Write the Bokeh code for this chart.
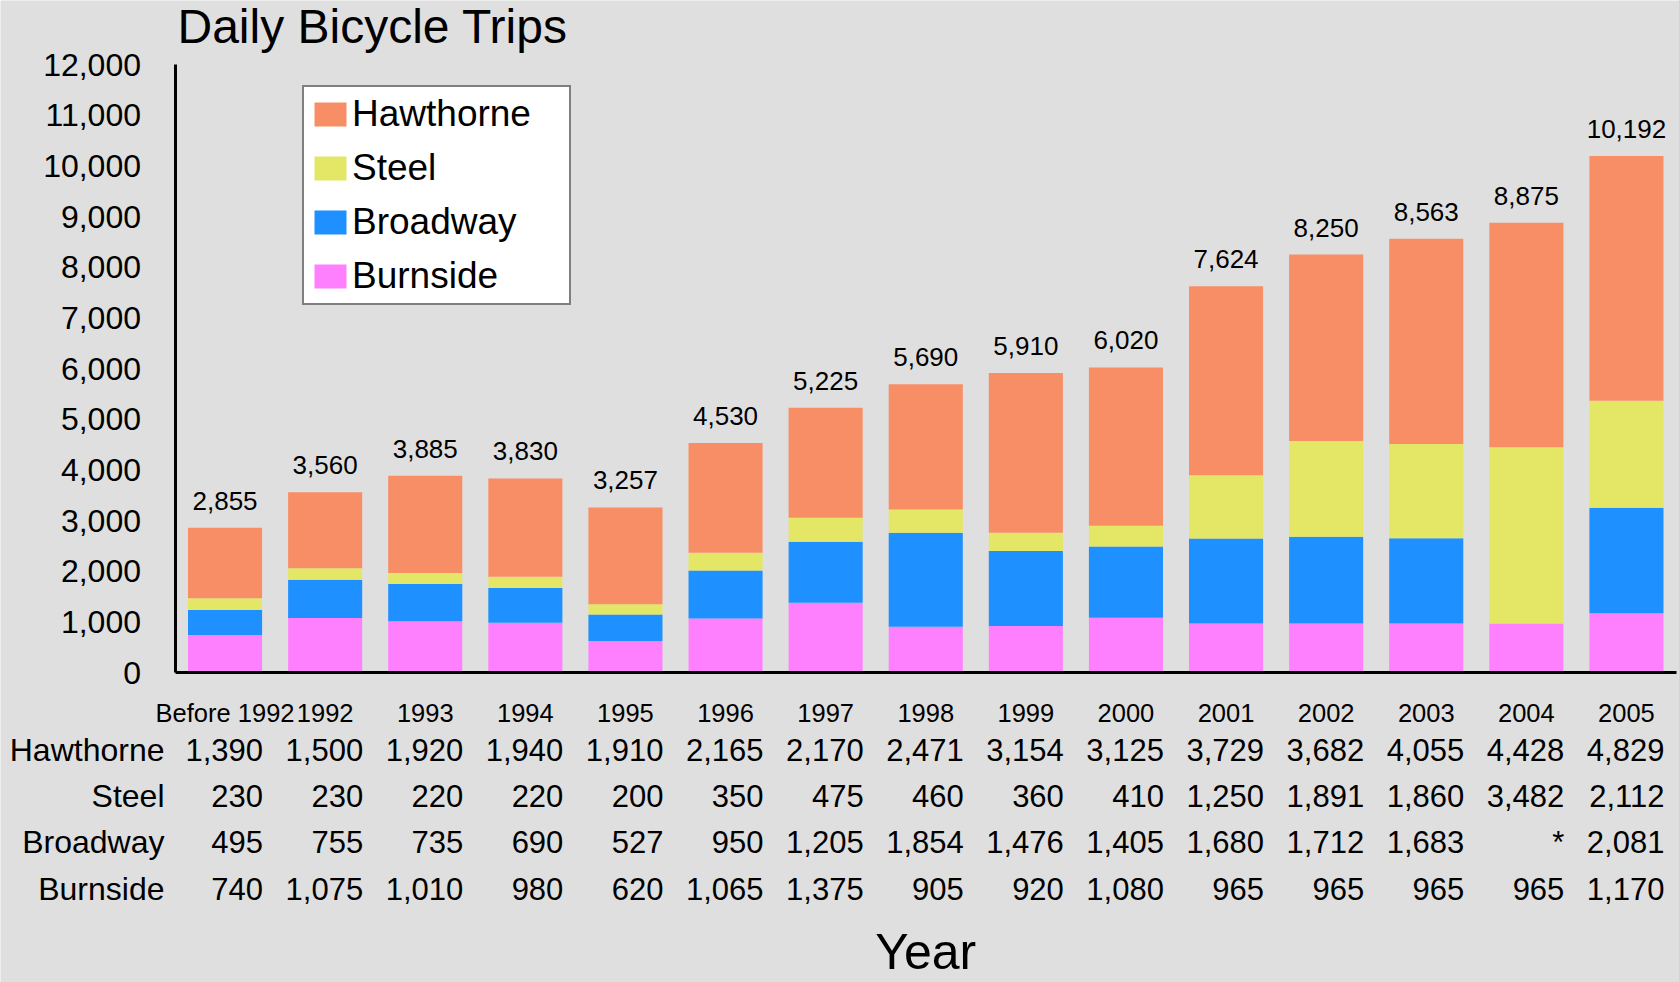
from bokeh.plotting import figure
from bokeh.models import (ColumnDataSource, LabelSet, Legend, LegendItem,
                          FixedTicker, NumeralTickFormatter, Range1d)
from bokeh.core.properties import value
from bokeh.embed import file_html
from bokeh.resources import INLINE

# ---------------- data ----------------
years = ["Before 1992", "1992", "1993", "1994", "1995", "1996", "1997", "1998",
         "1999", "2000", "2001", "2002", "2003", "2004", "2005"]
hawthorne = [1390, 1500, 1920, 1940, 1910, 2165, 2170, 2471, 3154, 3125, 3729, 3682, 4055, 4428, 4829]
steel = [230, 230, 220, 220, 200, 350, 475, 460, 360, 410, 1250, 1891, 1860, 3482, 2112]
broadway = [495, 755, 735, 690, 527, 950, 1205, 1854, 1476, 1405, 1680, 1712, 1683, None, 2081]
burnside = [740, 1075, 1010, 980, 620, 1065, 1375, 905, 920, 1080, 965, 965, 965, 965, 1170]
series_names = ["Hawthorne", "Steel", "Broadway", "Burnside"]
y_ticks = [0, 1000, 2000, 3000, 4000, 5000, 6000, 7000, 8000, 9000, 10000, 11000, 12000]

# ---------------- style / layout ----------------
FONT = "Liberation Sans"
BG = "#DFDFDF"
COLORS = {"Hawthorne": "#F88E66", "Steel": "#E4E765", "Broadway": "#1E90FF", "Burnside": "#FF80FF"}

W, H = 1679, 982
AXIS_PX = 174.5                    # pixel column of the value axis
CAT_PX = 100.1                     # pixel width of one category
TOP_PX, ZERO_PX = 64, 672          # pixel rows of 12000 and 0
UPP = 12000 / (ZERO_PX - TOP_PX)   # data units per pixel
Y1 = 12000 + TOP_PX * UPP
Y0 = Y1 - H * UPP
X0 = -0.5 - AXIS_PX / CAT_PX
X1 = X0 + W / CAT_PX


def ydata(px):
    return Y1 - px * UPP


def fmt(v):
    return "*" if v is None else f"{v:,}"


n = len(years)
xs = list(range(n))
broadway_stack = [0 if v is None else v for v in broadway]
totals = [a + b + c + d for a, b, c, d in zip(hawthorne, steel, broadway_stack, burnside)]

src = ColumnDataSource(dict(x=xs, hawthorne=hawthorne, steel=steel,
                            broadway=broadway_stack, burnside=burnside,
                            total=totals, total_txt=[f"{t:,}" for t in totals]))

p = figure(x_range=Range1d(X0, X1), y_range=Range1d(Y0, Y1),
           width=W, height=H, output_backend="svg", toolbar_location=None,
           min_border_left=0, min_border_right=0, min_border_top=0, min_border_bottom=0,
           background_fill_color=BG, border_fill_color=BG, outline_line_color=None)
p.xgrid.visible = False
p.ygrid.visible = False

# value axis, drawn at the left edge of the first category
ay = p.yaxis[0]
ay.fixed_location = -0.5
ay.bounds = (0, 12000)
ay.ticker = FixedTicker(ticks=y_ticks)
ay.formatter = NumeralTickFormatter(format="0,0")
ay.major_label_text_font = FONT
ay.major_label_text_font_size = "32px"
ay.major_label_text_color = "black"
ay.major_tick_line_color = None
ay.minor_tick_line_color = None
ay.major_tick_out = 0
ay.major_tick_in = 0
ay.axis_line_width = 3
ay.axis_line_color = "black"
ay.major_label_standoff = 34

# category axis at zero
axx = p.xaxis[0]
axx.fixed_location = 0
axx.bounds = (-0.5, n - 0.5)
axx.ticker = FixedTicker(ticks=xs)
axx.major_label_overrides = {i: y for i, y in zip(xs, years)}
axx.major_label_text_font = FONT
axx.major_label_text_font_size = "25.5px"
axx.major_label_text_color = "black"
axx.major_tick_line_color = None
axx.minor_tick_line_color = None
axx.major_tick_out = 0
axx.major_tick_in = 0
axx.axis_line_width = 3
axx.axis_line_color = "black"
axx.major_label_standoff = 26

stack_order = ["burnside", "broadway", "steel", "hawthorne"]
stack_names = ["Burnside", "Broadway", "Steel", "Hawthorne"]
renderers = p.vbar_stack(stack_order, x="x", width=0.74, source=src,
                         fill_color=[COLORS[s] for s in stack_names], line_color=None)
rmap = dict(zip(stack_names, renderers))

# totals above bars
p.add_layout(LabelSet(x="x", y="total", text="total_txt", source=src,
                      text_align="center", text_baseline="alphabetic", y_offset=18,
                      text_font=value(FONT), text_font_size="26px", text_color="black"))

# data table rows
rows = [hawthorne, steel, broadway, burnside]
row_px = [760, 806, 852, 899]
for vals, px in zip(rows, row_px):
    s = ColumnDataSource(dict(x=xs, y=[ydata(px)] * n, t=[fmt(v) for v in vals]))
    p.add_layout(LabelSet(x="x", y="y", text="t", source=s, text_align="right",
                          x_offset=38, text_baseline="alphabetic", text_font=value(FONT),
                          text_font_size="31px", text_color="black"))

name_src = ColumnDataSource(dict(x=[-0.5] * 4, y=[ydata(px) for px in row_px], t=series_names))
p.add_layout(LabelSet(x="x", y="y", text="t", source=name_src, text_align="right",
                      x_offset=-10.5, text_baseline="alphabetic", text_font=value(FONT),
                      text_font_size="32px", text_color="black"))

# title and axis title
title_src = ColumnDataSource(dict(x=[-0.5], y=[ydata(42)], t=["Daily Bicycle Trips"]))
p.add_layout(LabelSet(x="x", y="y", text="t", source=title_src, text_align="left",
                      x_offset=2.5, text_baseline="alphabetic", text_font=value(FONT),
                      text_font_size="48px", text_color="black"))
xt_src = ColumnDataSource(dict(x=[7], y=[ydata(968)], t=["Year"]))
p.add_layout(LabelSet(x="x", y="y", text="t", source=xt_src, text_align="center",
                      text_baseline="alphabetic", text_font=value(FONT),
                      text_font_size="50px", text_color="black"))

legend = Legend(items=[LegendItem(label=s, renderers=[rmap[s]]) for s in series_names],
                location=(302, H - 305), margin=0, padding=6, spacing=12,
                glyph_width=40, glyph_height=30, label_standoff=2, label_width=211,
                label_text_font=FONT, label_text_font_size="37px", label_text_color="black",
                background_fill_color="white", background_fill_alpha=1.0,
                border_line_color="black", border_line_width=2)
p.add_layout(legend)

open("out.html", "w").write(file_html(p, INLINE))
